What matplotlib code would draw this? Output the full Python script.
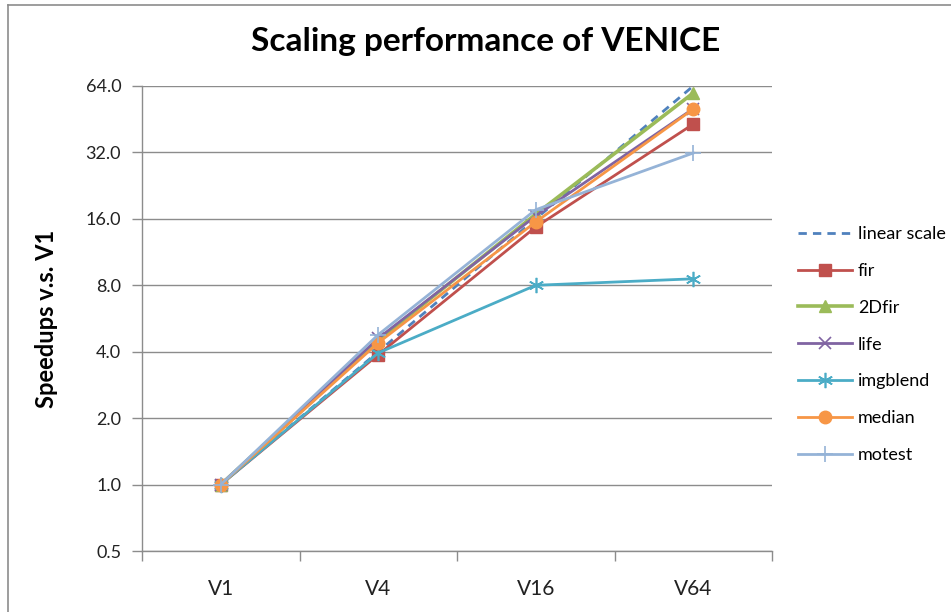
import numpy as np
import matplotlib
matplotlib.use("Agg")
import matplotlib.pyplot as plt
from matplotlib.lines import Line2D
from matplotlib.ticker import FixedLocator, FormatStrFormatter, NullLocator

plt.rcParams['font.family'] = ['Lato', 'DejaVu Sans']

versions = ['V1', 'V4', 'V16', 'V64']
linear_scale = [1, 4, 16, 64]
fir = [1, 3.88, 14.7, 43]
fir2d = [1, 4.5, 16.8, 59.5]
life = [1, 4.6, 16.5, 50.5]
imgblend = [1, 3.95, 8.0, 8.56]
median = [1, 4.39, 15.5, 50.3]
motest = [1, 4.78, 17.6, 31.8]
yticks = [0.5, 1, 2, 4, 8, 16, 32, 64]

fig = plt.figure(figsize=(9.51, 6.12), dpi=100)
ax = fig.add_axes([142 / 951, 1 - 551 / 612, 630 / 951, 465 / 612])
x = np.arange(len(versions))

ax.plot(x, linear_scale, color='#4F81BD', lw=2, ls=(0, (3, 2.2)), label='linear scale', zorder=3)
ax.plot(x, fir, color='#C0504D', lw=2, marker='s', ms=8, label='fir', zorder=3)
ax.plot(x, fir2d, color='#9BBB59', lw=2.6, marker='^', ms=9, label='2Dfir', zorder=3)
ax.plot(x, life, color='#8064A2', lw=2, marker='x', ms=8, mew=1.2, label='life', zorder=3)
ax.plot(x, imgblend, color='#4BACC6', lw=2, marker=(6, 2, 0), ms=11, mew=1.2, label='imgblend', zorder=3)
ax.plot(x, median, color='#F79646', lw=2, marker='o', ms=9, label='median', zorder=3)
ax.plot(x, motest, color='#95B3D7', lw=2, marker='+', ms=12, mew=1.2, label='motest', zorder=3)

ax.set_yscale('log', base=2)
ax.set_ylim(0.5, 64)
ax.yaxis.set_major_locator(FixedLocator(yticks))
ax.yaxis.set_major_formatter(FormatStrFormatter('%.1f'))
ax.yaxis.set_minor_locator(NullLocator())
ax.set_xlim(-0.5, 3.5)
ax.set_xticks(x)
ax.set_xticklabels(versions)
ax.set_xticks(np.arange(-0.5, 4, 1), minor=True)
ax.tick_params(axis='x', which='major', length=0, pad=20, labelsize=15, colors='#222222')
ax.tick_params(axis='x', which='minor', length=7, width=1, color='#8c8c8c', direction='out')
ax.tick_params(axis='y', length=7, width=1, color='#8c8c8c', pad=8, labelsize=13, labelcolor='#222222')
ax.grid(axis='y', color='#8c8c8c', lw=1)
ax.set_axisbelow(True)
for side in ['top', 'right']:
    ax.spines[side].set_visible(False)
for side in ['left', 'bottom']:
    ax.spines[side].set_color('#8c8c8c')
    ax.spines[side].set_linewidth(1)

ax.set_ylabel('Speedups v.s. V1', fontsize=17, fontweight='bold', labelpad=20)
fig.text(486 / 951, 1 - 42 / 612, 'Scaling performance of VENICE', ha='center', va='center',
         fontsize=24, fontweight='bold')

ax.legend(loc='upper left', bbox_to_anchor=(782 / 951, 1 - 210 / 612),
          bbox_transform=fig.transFigure, frameon=False, fontsize=13,
          handlelength=3.0, handletextpad=0.3, labelspacing=1.15)

# chart area border
fig.add_artist(Line2D([8 / 951, 8 / 951], [0, 1 - 5 / 612], color='#8c8c8c', lw=1.2))
fig.add_artist(Line2D([8 / 951, 1], [1 - 5 / 612, 1 - 5 / 612], color='#8c8c8c', lw=1.2))

fig.savefig('out.png', dpi=100)
